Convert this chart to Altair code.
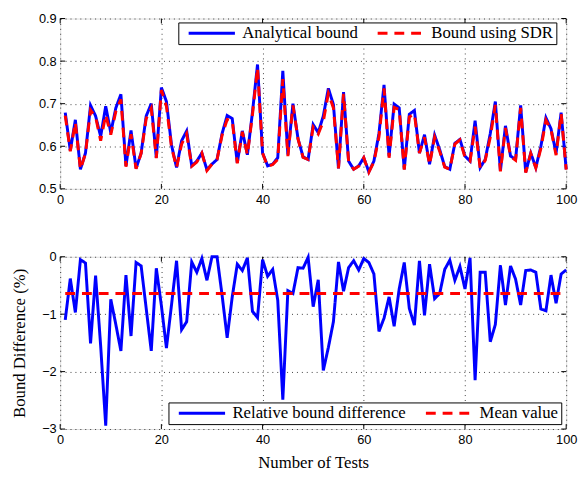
import altair as alt
import pandas as pd

tests = list(range(1, 101))

analytical = [
    0.679, 0.590, 0.662, 0.546, 0.584, 0.696, 0.671, 0.623, 0.694, 0.632,
    0.690, 0.722, 0.554, 0.637, 0.548, 0.584, 0.671, 0.700, 0.573, 0.738,
    0.705, 0.603, 0.550, 0.613, 0.636, 0.554, 0.565, 0.584, 0.545, 0.558,
    0.569, 0.630, 0.672, 0.665, 0.561, 0.636, 0.580, 0.680, 0.792, 0.584,
    0.554, 0.558, 0.573, 0.777, 0.580, 0.700, 0.618, 0.575, 0.569, 0.651,
    0.632, 0.671, 0.736, 0.698, 0.548, 0.727, 0.565, 0.546, 0.554, 0.573,
    0.540, 0.565, 0.630, 0.744, 0.577, 0.699, 0.690, 0.546, 0.675, 0.684,
    0.584, 0.627, 0.558, 0.626, 0.592, 0.552, 0.546, 0.607, 0.616, 0.577,
    0.565, 0.660, 0.550, 0.569, 0.630, 0.705, 0.542, 0.648, 0.577, 0.569,
    0.696, 0.539, 0.584, 0.550, 0.600, 0.667, 0.641, 0.584, 0.679, 0.546,
]

sdr = [
    0.672, 0.588, 0.656, 0.546, 0.583, 0.685, 0.669, 0.613, 0.674, 0.627,
    0.682, 0.710, 0.552, 0.628, 0.547, 0.583, 0.665, 0.689, 0.572, 0.732,
    0.694, 0.598, 0.550, 0.605, 0.629, 0.553, 0.563, 0.584, 0.543, 0.558,
    0.569, 0.626, 0.663, 0.660, 0.560, 0.634, 0.580, 0.674, 0.784, 0.584,
    0.552, 0.557, 0.569, 0.758, 0.577, 0.696, 0.617, 0.574, 0.569, 0.645,
    0.629, 0.658, 0.724, 0.690, 0.548, 0.723, 0.564, 0.546, 0.553, 0.573,
    0.539, 0.563, 0.622, 0.736, 0.573, 0.691, 0.686, 0.545, 0.669, 0.676,
    0.584, 0.621, 0.557, 0.621, 0.588, 0.551, 0.546, 0.605, 0.615, 0.574,
    0.565, 0.646, 0.549, 0.567, 0.621, 0.697, 0.541, 0.643, 0.576, 0.567,
    0.690, 0.538, 0.583, 0.549, 0.595, 0.661, 0.639, 0.579, 0.677, 0.545,
]

rel_diff = [
    -1.10, -0.38, -0.97, -0.05, -0.11, -1.51, -0.33, -1.55, -2.94, -0.74,
    -1.18, -1.64, -0.32, -1.38, -0.10, -0.16, -0.90, -1.64, -0.20, -0.85,
    -1.59, -0.84, -0.07, -1.27, -1.13, -0.09, -0.27, -0.03, -0.41, 0.00,
    0.00, -0.67, -1.41, -0.70, -0.13, -0.24, -0.02, -0.95, -1.06, -0.05,
    -0.34, -0.22, -0.76, -2.49, -0.59, -0.64, -0.19, -0.20, -0.01, -0.87,
    -0.40, -1.98, -1.58, -1.13, -0.09, -0.60, -0.19, -0.07, -0.23, -0.03,
    -0.10, -0.30, -1.30, -1.07, -0.70, -1.21, -0.56, -0.10, -0.90, -1.19,
    -0.07, -1.02, -0.13, -0.73, -0.64, -0.22, -0.06, -0.41, -0.17, -0.56,
    -0.02, -2.15, -0.27, -0.27, -1.48, -1.18, -0.15, -0.84, -0.16, -0.39,
    -0.84, -0.24, -0.23, -0.27, -0.91, -0.94, -0.32, -0.81, -0.30, -0.23,
]

mean_value = -0.64

x_ticks = [0, 20, 40, 60, 80, 100]
top_y_ticks = [0.5, 0.6, 0.7, 0.8, 0.9]
bot_y_ticks = [-3, -2, -1, 0]

top_names = ["Analytical bound", "Bound using SDR"]
bot_names = ["Relative bound difference", "Mean value"]

W = 514
H1 = 173
H2 = 175
SANS = "Liberation Sans"
SERIF = "Liberation Serif"
TICK = 5

xs = alt.Scale(domain=[0, 100], nice=False, zero=False)
ys_top = alt.Scale(domain=[0.5, 0.9], nice=False, zero=False)
ys_bot = alt.Scale(domain=[-3, 0], nice=False, zero=False)

common_axis = dict(
    labelFont=SANS, labelFontSize=13, labelColor="black", tickSize=0,
    domain=False, grid=True, gridDash=[1, 4], gridColor="black",
    gridOpacity=0.75, gridWidth=1, labelFlush=False, labelOverlap=False,
)

x_axis_top = alt.Axis(values=x_ticks, title=None, labelPadding=5, **common_axis)
x_axis_bot = alt.Axis(values=x_ticks, title="Number of Tests", titleFont=SERIF,
                      titleFontSize=17, titleFontWeight="normal", titleColor="black",
                      titlePadding=8, labelPadding=5, **common_axis)
y_axis_top = alt.Axis(values=top_y_ticks, format=".1f", title=None, labelPadding=4,
                      **common_axis)
y_axis_bot = alt.Axis(values=bot_y_ticks, format="d", title="Bound Difference (%)",
                      titleFont=SERIF, titleFontSize=17, titleFontWeight="normal",
                      titleColor="black", titlePadding=13, labelPadding=4, **common_axis)


def legend(lx, ly):
    return alt.Legend(
        title=None, orient="none", legendX=lx, legendY=ly, direction="horizontal",
        symbolType="stroke", symbolSize=47 * 47, symbolStrokeWidth=3,
        labelFont=SERIF, labelFontSize=17, labelColor="black", labelLimit=400,
        fillColor="white", strokeColor="black", padding=3, clipHeight=16,
        columnPadding=12, labelOffset=6, symbolOffset=6,
    )


def tick_layers(xax, yax, ys, yt, h, yname):
    xt_df = pd.DataFrame({"test": x_ticks})
    yt_df = pd.DataFrame({yname: yt})
    lays = []
    for a, b in [(0, TICK), (h, h - TICK)]:
        lays.append(alt.Chart(xt_df).mark_rule(color="black", strokeWidth=1).encode(
            x=alt.X("test:Q", scale=xs, axis=xax),
            y=alt.value(a), y2=alt.value(b)))
    for a, b in [(0, TICK), (W, W - TICK)]:
        lays.append(alt.Chart(yt_df).mark_rule(color="black", strokeWidth=1).encode(
            y=alt.Y(f"{yname}:Q", scale=ys, axis=yax),
            x=alt.value(a), x2=alt.value(b)))
    return lays


# ---- top panel
top_color = alt.Scale(domain=top_names, range=["#0000ff", "#ff0000"])
top_dash = alt.Scale(domain=top_names, range=[[1, 0], [10, 7]])
top_leg = legend(120, 4)

df_a = pd.DataFrame({"test": tests, "value": analytical, "series": top_names[0]})
df_s = pd.DataFrame({"test": tests, "value": sdr, "series": top_names[1]})


def top_line(df):
    return alt.Chart(df).mark_line(strokeWidth=3).encode(
        x=alt.X("test:Q", scale=xs, axis=x_axis_top),
        y=alt.Y("value:Q", scale=ys_top, axis=y_axis_top),
        color=alt.Color("series:N", scale=top_color, legend=top_leg),
        strokeDash=alt.StrokeDash("series:N", scale=top_dash, legend=top_leg),
    )


top = alt.layer(
    *tick_layers(x_axis_top, y_axis_top, ys_top, top_y_ticks, H1, "value"),
    top_line(df_a), top_line(df_s),
).properties(width=W, height=H1)

# ---- bottom panel
bot_color = alt.Scale(domain=bot_names, range=["#0000ff", "#ff0000"])
bot_dash = alt.Scale(domain=bot_names, range=[[1, 0], [10, 7]])
bot_leg = legend(110, 148)

df_d = pd.DataFrame({"test": tests, "diff": rel_diff, "kind": bot_names[0]})
df_m = pd.DataFrame({"test": [tests[0], tests[-1]], "diff": [mean_value, mean_value],
                     "kind": bot_names[1]})


def bot_line(df):
    return alt.Chart(df).mark_line(strokeWidth=3).encode(
        x=alt.X("test:Q", scale=xs, axis=x_axis_bot),
        y=alt.Y("diff:Q", scale=ys_bot, axis=y_axis_bot),
        color=alt.Color("kind:N", scale=bot_color, legend=bot_leg),
        strokeDash=alt.StrokeDash("kind:N", scale=bot_dash, legend=bot_leg),
    )


bottom = alt.layer(
    *tick_layers(x_axis_bot, y_axis_bot, ys_bot, bot_y_ticks, H2, "diff"),
    bot_line(df_d), bot_line(df_m),
).properties(width=W, height=H2)

chart = alt.vconcat(top, bottom, spacing=43).resolve_scale(
    color="independent", strokeDash="independent"
).resolve_legend(color="independent", strokeDash="independent").properties(
    padding={"left": 2, "top": 0, "right": 0, "bottom": 0}
).configure_view(stroke="black", strokeWidth=1).configure(background="white")

chart.save("out.html", embed_options={"renderer": "svg", "actions": False})
